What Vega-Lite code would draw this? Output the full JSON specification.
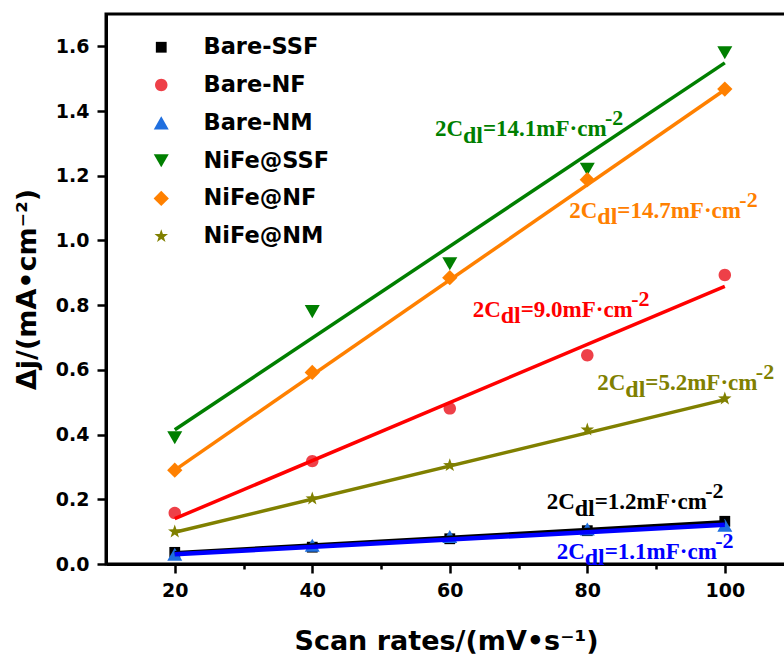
{
  "$schema": "https://vega.github.io/schema/vega-lite/v6.json",
  "autosize": "none",
  "padding": {"left": 106, "top": 14, "right": 0, "bottom": 99},
  "width": 680,
  "height": 550,
  "background": "white",
  "config": {
    "view": {"stroke": "black", "strokeWidth": 3},
    "axis": {
      "grid": false,
      "domainColor": "black",
      "domainWidth": 3,
      "tickColor": "black",
      "tickWidth": 2.5,
      "labelFont": "DejaVu Sans",
      "labelFontWeight": "bold",
      "labelFontSize": 19,
      "labelColor": "black",
      "titleFont": "DejaVu Sans",
      "titleFontWeight": "bold",
      "titleFontSize": 27,
      "titleColor": "black"
    },
    "legend": {
      "orient": "none",
      "legendX": 44,
      "legendY": 22,
      "padding": 0,
      "rowPadding": 14.8,
      "symbolSize": 225,
      "symbolStrokeWidth": 0,
      "labelFont": "DejaVu Sans",
      "labelFontWeight": "bold",
      "labelFontSize": 22.5,
      "labelColor": "black",
      "labelOffset": 31
    }
  },
  "datasets": {
    "points": [
      {"series": "Bare-SSF", "rate": 20, "dj": 0.036},
      {"series": "Bare-SSF", "rate": 40, "dj": 0.052},
      {"series": "Bare-SSF", "rate": 60, "dj": 0.078},
      {"series": "Bare-SSF", "rate": 80, "dj": 0.103},
      {"series": "Bare-SSF", "rate": 100, "dj": 0.132},
      {"series": "Bare-NF", "rate": 20, "dj": 0.158},
      {"series": "Bare-NF", "rate": 40, "dj": 0.318},
      {"series": "Bare-NF", "rate": 60, "dj": 0.481},
      {"series": "Bare-NF", "rate": 80, "dj": 0.645},
      {"series": "Bare-NF", "rate": 100, "dj": 0.893},
      {"series": "Bare-NM", "rate": 20, "dj": 0.030},
      {"series": "Bare-NM", "rate": 40, "dj": 0.058},
      {"series": "Bare-NM", "rate": 60, "dj": 0.085},
      {"series": "Bare-NM", "rate": 80, "dj": 0.108},
      {"series": "Bare-NM", "rate": 100, "dj": 0.120},
      {"series": "NiFe@SSF", "rate": 20, "dj": 0.390},
      {"series": "NiFe@SSF", "rate": 40, "dj": 0.780},
      {"series": "NiFe@SSF", "rate": 60, "dj": 0.928},
      {"series": "NiFe@SSF", "rate": 80, "dj": 1.220},
      {"series": "NiFe@SSF", "rate": 100, "dj": 1.580},
      {"series": "NiFe@NF", "rate": 20, "dj": 0.290},
      {"series": "NiFe@NF", "rate": 40, "dj": 0.592},
      {"series": "NiFe@NF", "rate": 60, "dj": 0.885},
      {"series": "NiFe@NF", "rate": 80, "dj": 1.188},
      {"series": "NiFe@NF", "rate": 100, "dj": 1.468},
      {"series": "NiFe@NM", "rate": 20, "dj": 0.100},
      {"series": "NiFe@NM", "rate": 40, "dj": 0.202},
      {"series": "NiFe@NM", "rate": 60, "dj": 0.305},
      {"series": "NiFe@NM", "rate": 80, "dj": 0.415},
      {"series": "NiFe@NM", "rate": 100, "dj": 0.511}
    ],
    "fits": [
      {"series": "Bare-SSF", "rate": 20, "dj": 0.033},
      {"series": "Bare-SSF", "rate": 100, "dj": 0.129},
      {"series": "Bare-NM", "rate": 20, "dj": 0.030},
      {"series": "Bare-NM", "rate": 100, "dj": 0.121},
      {"series": "Bare-NF", "rate": 20, "dj": 0.140},
      {"series": "Bare-NF", "rate": 100, "dj": 0.858},
      {"series": "NiFe@NM", "rate": 20, "dj": 0.098},
      {"series": "NiFe@NM", "rate": 100, "dj": 0.508},
      {"series": "NiFe@NF", "rate": 20, "dj": 0.290},
      {"series": "NiFe@NF", "rate": 100, "dj": 1.466},
      {"series": "NiFe@SSF", "rate": 20, "dj": 0.415},
      {"series": "NiFe@SSF", "rate": 100, "dj": 1.549}
    ],
    "labels": [
      {"series": "NiFe@SSF", "rate": 57.85, "dj": 1.322, "cdl": 14.1},
      {"series": "NiFe@NF", "rate": 77.39, "dj": 1.070, "cdl": 14.7},
      {"series": "Bare-NF", "rate": 63.33, "dj": 0.765, "cdl": 9.0},
      {"series": "NiFe@NM", "rate": 81.46, "dj": 0.537, "cdl": 5.2},
      {"series": "Bare-SSF", "rate": 74.10, "dj": 0.170, "cdl": 1.2},
      {"series": "Bare-NM", "rate": 75.55, "dj": 0.016, "cdl": 1.1}
    ]
  },
  "layer": [
    {
      "data": {"name": "points"},
      "mark": {"type": "point", "filled": true, "opacity": 1, "size": 225, "strokeWidth": 0},
      "encoding": {
        "x": {
          "field": "rate",
          "type": "quantitative",
          "scale": {"domain": [10, 108.9], "nice": false, "zero": false},
          "axis": {
            "title": "Scan rates/(mV•s⁻¹)",
            "values": [20, 30, 40, 50, 60, 70, 80, 90, 100],
            "labelExpr": "datum.value % 20 === 0 ? datum.label : ''",
            "tickSize": {"condition": {"test": "datum.value % 20 !== 0", "value": 5}, "value": 9},
            "labelPadding": 8,
            "titlePadding": 28
          }
        },
        "y": {
          "field": "dj",
          "type": "quantitative",
          "scale": {"domain": [0, 1.7], "nice": false},
          "axis": {
            "title": "Δj/(mA•cm⁻²)",
            "values": [0, 0.1, 0.2, 0.3, 0.4, 0.5, 0.6, 0.7, 0.8, 0.9, 1.0, 1.1, 1.2, 1.3, 1.4, 1.5, 1.6],
            "format": ".1f",
            "labelExpr": "round(datum.value * 10) % 2 === 0 ? datum.label : ''",
            "tickSize": {"condition": {"test": "round(datum.value * 10) % 2 === 1", "value": 5}, "value": 9},
            "labelPadding": 8,
            "titlePadding": 14
          }
        },
        "fill": {
          "field": "series",
          "type": "nominal",
          "scale": {
            "domain": ["Bare-SSF", "Bare-NF", "Bare-NM", "NiFe@SSF", "NiFe@NF", "NiFe@NM"],
            "range": ["#000000", "#EE4048", "#1F6FDF", "#007F00", "#FF8000", "#808000"]
          },
          "legend": {"title": null}
        },
        "shape": {
          "field": "series",
          "type": "nominal",
          "scale": {
            "domain": ["Bare-SSF", "Bare-NF", "Bare-NM", "NiFe@SSF", "NiFe@NF", "NiFe@NM"],
            "range": [
              "M-0.72,-0.72L0.72,-0.72L0.72,0.72L-0.72,0.72Z",
              "M-0.83,0A0.83,0.83 0 1,0 0.83,0A0.83,0.83 0 1,0 -0.83,0Z",
              "M0,-0.87L1,0.87L-1,0.87Z",
              "M-1,-0.87L1,-0.87L0,0.87Z",
              "M0,-1.02L1.02,0L0,1.02L-1.02,0Z",
              "M0,-0.95L0.22,-0.31L0.9,-0.29L0.36,0.12L0.56,0.77L0,0.38L-0.56,0.77L-0.36,0.12L-0.9,-0.29L-0.22,-0.31Z"
            ]
          },
          "legend": {"title": null}
        }
      }
    },
    {
      "data": {"name": "fits"},
      "transform": [{"filter": "datum.series === 'Bare-SSF' || datum.series === 'Bare-NM'"}],
      "mark": {"type": "line", "strokeWidth": 4.5},
      "encoding": {
        "x": {"field": "rate", "type": "quantitative"},
        "y": {"field": "dj", "type": "quantitative"},
        "order": {"field": "rate"},
        "stroke": {
          "field": "series",
          "type": "nominal",
          "scale": {
            "domain": ["Bare-SSF", "Bare-NF", "Bare-NM", "NiFe@SSF", "NiFe@NF", "NiFe@NM"],
            "range": ["#000000", "#FF0000", "#0000FF", "#007F00", "#FF8000", "#808000"]
          },
          "legend": null
        }
      }
    },
    {
      "data": {"name": "fits"},
      "transform": [{"filter": "datum.series !== 'Bare-SSF' && datum.series !== 'Bare-NM'"}],
      "mark": {"type": "line", "strokeWidth": 3.5},
      "encoding": {
        "x": {"field": "rate", "type": "quantitative"},
        "y": {"field": "dj", "type": "quantitative"},
        "order": {"field": "rate"},
        "stroke": {"field": "series", "type": "nominal", "legend": null}
      }
    },
    {
      "data": {"name": "labels"},
      "mark": {"type": "text", "align": "left", "baseline": "alphabetic", "font": "Liberation Serif", "fontWeight": "bold", "fontSize": 23},
      "encoding": {
        "x": {"field": "rate", "type": "quantitative"},
        "y": {"field": "dj", "type": "quantitative"},
        "text": {"value": "2C"},
        "color": {
          "field": "series",
          "type": "nominal",
          "scale": {
            "domain": ["Bare-SSF", "Bare-NF", "Bare-NM", "NiFe@SSF", "NiFe@NF", "NiFe@NM"],
            "range": ["#000000", "#FF0000", "#0000FF", "#007F00", "#FF8000", "#808000"]
          },
          "legend": null
        }
      }
    },
    {
      "data": {"name": "labels"},
      "mark": {"type": "text", "align": "left", "baseline": "alphabetic", "font": "Liberation Serif", "fontWeight": "bold", "fontSize": 24, "dx": 28, "dy": 6.5},
      "encoding": {
        "x": {"field": "rate", "type": "quantitative"},
        "y": {"field": "dj", "type": "quantitative"},
        "text": {"value": "dl"},
        "color": {"field": "series", "type": "nominal", "legend": null}
      }
    },
    {
      "data": {"name": "labels"},
      "transform": [{"calculate": "'=' + format(datum.cdl, '.1f') + 'mF·cm'", "as": "eq"}],
      "mark": {"type": "text", "align": "left", "baseline": "alphabetic", "font": "Liberation Serif", "fontWeight": "bold", "fontSize": 23, "dx": 48},
      "encoding": {
        "x": {"field": "rate", "type": "quantitative"},
        "y": {"field": "dj", "type": "quantitative"},
        "text": {"field": "eq"},
        "color": {"field": "series", "type": "nominal", "legend": null}
      }
    },
    {
      "data": {"name": "labels"},
      "transform": [{"filter": "datum.cdl >= 10"}],
      "mark": {"type": "text", "align": "left", "baseline": "alphabetic", "font": "Liberation Serif", "fontWeight": "bold", "fontSize": 22, "dx": 170, "dy": -11},
      "encoding": {
        "x": {"field": "rate", "type": "quantitative"},
        "y": {"field": "dj", "type": "quantitative"},
        "text": {"value": "-2"},
        "color": {"field": "series", "type": "nominal", "legend": null}
      }
    },
    {
      "data": {"name": "labels"},
      "transform": [{"filter": "datum.cdl < 10"}],
      "mark": {"type": "text", "align": "left", "baseline": "alphabetic", "font": "Liberation Serif", "fontWeight": "bold", "fontSize": 22, "dx": 158.5, "dy": -11},
      "encoding": {
        "x": {"field": "rate", "type": "quantitative"},
        "y": {"field": "dj", "type": "quantitative"},
        "text": {"value": "-2"},
        "color": {"field": "series", "type": "nominal", "legend": null}
      }
    }
  ]
}
